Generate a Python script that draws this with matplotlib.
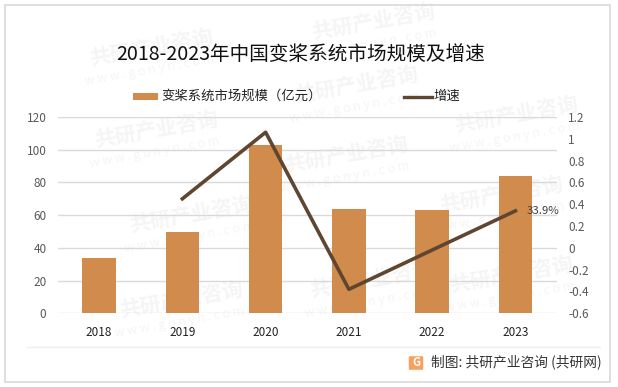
import matplotlib
matplotlib.use("Agg")
import matplotlib.pyplot as plt
from matplotlib.patches import Rectangle, FancyBboxPatch

plt.rcParams['font.family'] = ['Noto Sans CJK SC', 'DejaVu Sans']

years = ['2018', '2019', '2020', '2021', '2022', '2023']
market_size = [34, 50, 103, 64, 63, 84]
growth_years = ['2019', '2020', '2021', '2022', '2023']
growth = [0.45, 1.06, -0.38, -0.02, 0.339]
left_ticks = [0, 20, 40, 60, 80, 100, 120]
right_ticks = [-0.6, -0.4, -0.2, 0, 0.2, 0.4, 0.6, 0.8, 1, 1.2]
right_labels = ['-0.6', '-0.4', '-0.2', '0', '0.2', '0.4', '0.6', '0.8', '1', '1.2']
title = '2018-2023年中国变桨系统市场规模及增速'
bar_name = '变桨系统市场规模（亿元）'
line_name = '增速'
point_label = '33.9%'
credit = '制图: 共研产业咨询 (共研网)'
wm_name = '共研产业咨询'
wm_url = 'w w w . g o n y n . c o m'
wm_spots = [(90, 58), (312, 32), (295, 95), (95, 140), (455, 125), (285, 165),
            (130, 225), (440, 205), (120, 310), (310, 290), (450, 285)]

W, H = 618, 387
fig = plt.figure(figsize=(W / 100, H / 100), dpi=100, facecolor='white')

def fx(x): return x / W
def fy(y): return 1 - y / H

# watermark layer, beneath the axes
for x, y in wm_spots:
    fig.text(fx(x), fy(y), wm_name, fontsize=15, fontweight='bold', color='#f5f5f5',
             rotation=10, rotation_mode='anchor', ha='left', va='center', zorder=-5)
    fig.text(fx(x - 5), fy(y + 24), wm_url, fontsize=9, color='#f5f5f5',
             rotation=10, rotation_mode='anchor', ha='left', va='center', zorder=-5)

fig.add_artist(Rectangle((fx(5), fy(382)), 605 / W, 377 / H, transform=fig.transFigure,
                         fill=False, ec='#d9d9d9', lw=1.2, zorder=1))

ax = fig.add_axes([fx(57.5), fy(313.3), (557 - 57.5) / W, (313.3 - 117) / H])
ax.set_zorder(2)
ax.patch.set_alpha(0)
xs = list(range(len(years)))
ax.bar(xs, market_size, width=0.4, color='#d08b4d', zorder=2, label=bar_name)
ax.set_xlim(-0.5, 5.5)
ax.set_ylim(0, 120)
ax.set_xticks(xs, years)
ax.set_yticks(left_ticks)
ax.yaxis.grid(True, color='#d9d9d9', lw=1)
ax.set_axisbelow(True)
ax.tick_params(length=0)
ax.tick_params(axis='x', labelsize=8.5, labelcolor='#222222', pad=9)
ax.tick_params(axis='y', labelsize=8.5, labelcolor='#595959', pad=8)
for s in ax.spines.values():
    s.set_visible(False)

ax2 = ax.twinx()
ax2.set_zorder(3)
ax2.patch.set_alpha(0)
gx = [years.index(y) for y in growth_years]
ax2.plot(gx, growth, color='#5f4630', lw=2.6, zorder=3, label=line_name)
ax2.set_ylim(-0.6, 1.2)
ax2.set_yticks(right_ticks, right_labels)
ax2.tick_params(length=0, labelsize=8.5, labelcolor='#595959', pad=8)
for s in ax2.spines.values():
    s.set_visible(False)
ax2.annotate(point_label, (gx[-1], growth[-1]), xytext=(8, 0), textcoords='offset points',
             fontsize=8.2, color='#404040', va='center')

fig.text(fx(300.5), fy(54), title, fontsize=14.1, color='#111111', ha='center', va='center')

# legend
fig.add_artist(Rectangle((fx(133), fy(99.5)), 25 / W, 7 / H, transform=fig.transFigure,
                         fc='#d08b4d', ec='none'))
fig.text(fx(161), fy(96), bar_name, fontsize=9.6, color='#222222', ha='left', va='center')
fig.add_artist(plt.Line2D([fx(404), fx(432)], [fy(96.5), fy(96.5)], color='#5f4630', lw=2.4,
                          transform=fig.transFigure))
fig.text(fx(433), fy(96), line_name, fontsize=9.6, color='#222222', ha='left', va='center')

# footer
fig.add_artist(plt.Line2D([fx(27), fx(600)], [fy(347), fy(347)], color='#eeeeee', lw=1,
                          transform=fig.transFigure))
fig.add_artist(FancyBboxPatch((fx(410), fy(369)), 12 / W, 12 / H, boxstyle='round,pad=0.002',
                              transform=fig.transFigure, fc='#f6a25e', ec='none'))
fig.text(fx(416), fy(363), 'G', fontsize=8, fontweight='bold', color='white', ha='center', va='center')
fig.text(fx(431), fy(362), credit, fontsize=9.9, color='#333333', ha='left', va='center')

fig.savefig('out.png', dpi=100)
